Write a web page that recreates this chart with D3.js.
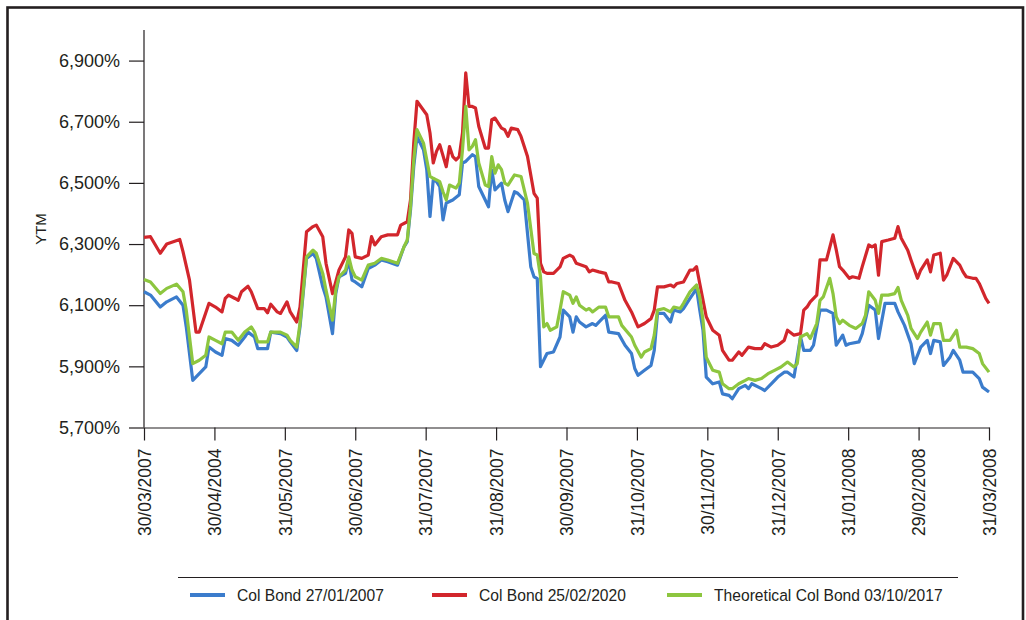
<!DOCTYPE html>
<html>
<head>
<meta charset="utf-8">
<title>YTM</title>
<script src="https://cdn.jsdelivr.net/npm/d3@7"></script>
<style>
	html, body { margin: 0; padding: 0; background: #fff; }
	#canvas { width: 1026px; height: 620px; overflow: hidden; }
	text { font-family: "Liberation Sans", Arial, sans-serif; fill: #231f20; }
</style>
</head>
<body>
<div id="canvas"></div>
<script>
// Data (x = trading day since 30/03/2007, y = yield in %)
var xLabels = ['30/03/2007', '30/04/2004', '31/05/2007', '30/06/2007', '31/07/2007', '31/08/2007',
	'30/09/2007', '31/10/2007', '30/11/2007', '31/12/2007', '31/01/2008', '29/02/2008', '31/03/2008'];
var yTicks = [5.7, 5.9, 6.1, 6.3, 6.5, 6.7, 6.9];
var seriesNames = ['Col Bond 27/01/2007', 'Col Bond 25/02/2020', 'Theoretical Col Bond 03/10/2017'];

var blueDay = [0, 2, 5, 7, 10, 12, 13, 15, 17, 19, 20, 22, 24, 25, 27, 29, 31, 32, 34, 35, 38, 39, 42, 44, 45, 47, 48,
	50, 52, 53, 55, 56, 58, 59, 60, 62, 63, 64, 65, 67, 69, 71, 73, 75, 78, 80, 81, 82, 83, 84, 86, 87, 88, 89, 90,
	91, 92, 93, 95, 97, 98, 99, 101, 102, 103, 104, 106, 107, 108, 110, 111, 112, 114, 115, 117, 119, 120, 121, 122,
	124, 126, 128, 129, 131, 132, 133, 134, 136, 138, 139, 141, 142, 143, 146, 148, 150, 151, 152, 154, 156, 157,
	158, 160, 162, 163, 165, 166, 168, 169, 170, 171, 172, 173, 175, 177, 178, 180, 181, 183, 185, 186, 187, 190,
	191, 193, 195, 197, 198, 200, 202, 203, 205, 206, 208, 210, 212, 213, 215, 216, 217, 220, 221, 223, 225, 226,
	228, 231, 232, 234, 236, 237, 239, 241, 242, 243, 245, 246, 248, 249, 251, 252, 254, 255, 257, 258, 260];
var blueYtm = [6.144, 6.133, 6.094, 6.111, 6.127, 6.100, 6.029, 5.854, 5.876, 5.898, 5.963, 5.947, 5.936, 5.991,
	5.985, 5.969, 5.996, 6.012, 5.996, 5.958, 5.958, 6.012, 6.007, 5.996, 5.980, 5.952, 6.029,
	6.253, 6.269, 6.253, 6.160, 6.127, 6.007, 6.138, 6.193, 6.204, 6.248, 6.182, 6.176, 6.160, 6.220, 6.231, 6.248,
	6.242, 6.231, 6.291, 6.308, 6.411, 6.553, 6.652, 6.608, 6.543, 6.390, 6.510, 6.504,
	6.488, 6.379, 6.434, 6.444, 6.461, 6.565, 6.570, 6.592, 6.586, 6.488, 6.466, 6.422, 6.543, 6.477, 6.499, 6.444,
	6.406, 6.471, 6.466, 6.444, 6.226, 6.193, 6.187, 5.899,
	5.942, 5.947, 5.996, 6.084, 6.062, 6.012, 6.062, 6.045, 6.029, 6.040, 6.034, 6.056, 6.067, 6.012, 6.007, 5.969,
	5.942, 5.893, 5.871, 5.887, 5.903, 5.952,
	6.073, 6.073, 6.045, 6.084, 6.078, 6.089, 6.122, 6.138, 6.155, 6.084, 6.018, 5.865, 5.843, 5.849, 5.810, 5.805,
	5.794, 5.827, 5.838, 5.827, 5.843, 5.827,
	5.821, 5.843, 5.865, 5.881, 5.881, 5.865, 5.996, 5.952, 5.952, 5.969, 6.084, 6.084, 6.073, 5.969, 6.002, 5.969,
	5.974, 5.980, 6.007, 6.100, 6.084, 5.991,
	6.106, 6.106, 6.078, 6.034, 5.974, 5.909, 5.963, 5.985, 5.942, 5.985, 5.980, 5.903, 5.930, 5.952, 5.920, 5.881,
	5.881, 5.881, 5.860, 5.832, 5.816];

var redDay = [0, 2, 5, 7, 11, 12, 14, 16, 17, 20, 22, 24, 25, 26, 28, 29, 30, 32, 33, 35, 37, 38, 39, 41, 42, 44, 45,
	47, 48, 50, 52, 53, 55, 56, 58, 60, 62, 63, 64, 65, 67, 69, 70, 71, 73, 75, 78, 79, 81, 82, 83, 84, 87, 88, 89,
	90, 91, 93, 94, 95, 96, 97, 98, 99, 100, 101, 102, 103, 105, 106, 107, 108, 110, 111, 112, 113, 115, 116, 118,
	120, 121, 122, 123, 124, 126, 128, 129, 131, 132, 133, 136, 137, 138, 140, 142, 143, 144, 146, 148, 150, 152,
	154, 156, 157, 158, 160, 162, 163, 164, 166, 168, 169, 170, 171, 173, 175, 177, 178, 180, 181, 183, 184, 186,
	188, 190, 191, 193, 195, 197, 198, 200, 202, 203, 204, 205, 207, 208, 210, 212, 213, 214, 215, 217, 218, 220,
	221, 223, 224, 225, 226, 227, 229, 231, 232, 233, 235, 236, 238, 239, 241, 242, 243, 245, 246, 247, 249, 251,
	252, 253, 255, 256, 257, 259, 260];
var redYtm = [6.322, 6.324, 6.270, 6.300, 6.315, 6.275, 6.182, 6.012, 6.012, 6.106, 6.094, 6.078, 6.122, 6.133,
	6.122, 6.116, 6.144, 6.162, 6.144, 6.089, 6.089, 6.075, 6.103, 6.078, 6.073, 6.111, 6.078,
	6.045, 6.094, 6.340, 6.357, 6.362, 6.324, 6.237, 6.138, 6.215, 6.258, 6.346, 6.335, 6.258, 6.253, 6.264, 6.324,
	6.297, 6.324, 6.330, 6.330, 6.362, 6.373, 6.444, 6.630, 6.767, 6.723, 6.663, 6.565,
	6.603, 6.625, 6.553, 6.619, 6.586, 6.575, 6.586, 6.663, 6.860, 6.750, 6.750, 6.745, 6.685, 6.614, 6.614, 6.707,
	6.712, 6.679, 6.674, 6.652, 6.679, 6.674, 6.652, 6.586,
	6.466, 6.450, 6.237, 6.209, 6.204, 6.204, 6.225, 6.253, 6.264, 6.258, 6.237, 6.226, 6.209, 6.215, 6.209, 6.204,
	6.176, 6.176, 6.171, 6.116, 6.078, 6.029,
	6.040, 6.056, 6.084, 6.160, 6.160, 6.166, 6.160, 6.171, 6.176, 6.215, 6.215, 6.226, 6.171, 6.062, 6.018, 6.002,
	5.952, 5.920, 5.920, 5.947, 5.936, 5.963,
	5.958, 5.958, 5.974, 5.963, 5.969, 5.985, 6.018, 6.002, 6.007, 6.084, 6.094, 6.111, 6.133, 6.248, 6.248, 6.330,
	6.281, 6.226, 6.215, 6.188, 6.193, 6.188,
	6.226, 6.297, 6.291, 6.297, 6.198, 6.308, 6.313, 6.319, 6.357, 6.319, 6.280, 6.248, 6.188, 6.215, 6.248, 6.209,
	6.264, 6.270, 6.182, 6.198, 6.253, 6.231,
	6.209, 6.193, 6.188, 6.188, 6.171, 6.122, 6.106];

var greenDay = [0, 2, 5, 7, 10, 12, 13, 15, 17, 19, 20, 22, 24, 25, 27, 29, 31, 33, 34, 35, 38, 39, 42, 44, 45, 47, 48,
	50, 52, 53, 55, 56, 58, 59, 60, 62, 63, 64, 65, 67, 69, 71, 73, 75, 78, 80, 81, 82, 83, 84, 86, 88, 89, 90, 91,
	92, 93, 94, 96, 97, 98, 99, 100, 101, 102, 103, 105, 106, 107, 108, 109, 110, 111, 112, 114, 116, 118, 120, 121,
	122, 123, 124, 125, 127, 128, 129, 131, 132, 133, 134, 136, 137, 138, 140, 142, 143, 146, 147, 150, 151, 153,
	154, 156, 157, 158, 160, 162, 163, 165, 166, 168, 169, 170, 171, 172, 173, 175, 177, 178, 180, 181, 183, 185,
	186, 188, 190, 192, 194, 196, 198, 200, 201, 202, 204, 205, 207, 208, 209, 211, 212, 213, 214, 215, 217, 219,
	221, 222, 223, 225, 226, 227, 229, 231, 232, 233, 235, 236, 238, 239, 241, 242, 243, 245, 246, 248, 250, 251,
	253, 255, 257, 258, 260];
var greenYtm = [6.184, 6.176, 6.138, 6.155, 6.169, 6.144, 6.084, 5.909, 5.920, 5.936, 5.996, 5.985, 5.974, 6.012,
	6.012, 5.985, 6.012, 6.029, 6.012, 5.980, 5.980, 6.012, 6.012, 6.002, 5.985, 5.963, 6.040,
	6.258, 6.280, 6.270, 6.204, 6.149, 6.051, 6.149, 6.193, 6.215, 6.258, 6.215, 6.193, 6.182, 6.231, 6.237, 6.253,
	6.248, 6.237, 6.291, 6.313, 6.422, 6.575, 6.674, 6.630, 6.521, 6.515, 6.510, 6.504,
	6.471, 6.444, 6.493, 6.483, 6.499, 6.608, 6.750, 6.608, 6.619, 6.641, 6.565, 6.493, 6.488, 6.586, 6.532, 6.559,
	6.543, 6.499, 6.493, 6.526, 6.521, 6.433, 6.269, 6.264,
	6.193, 6.029, 6.040, 6.018, 6.029, 6.084, 6.144, 6.133, 6.106, 6.127, 6.100, 6.084, 6.089, 6.078, 6.094, 6.094,
	6.062, 6.062, 6.034, 5.996, 5.969, 5.930,
	5.947, 5.958, 6.002, 6.084, 6.089, 6.078, 6.094, 6.089, 6.106, 6.144, 6.155, 6.166, 6.127, 6.051, 5.930, 5.887,
	5.881, 5.843, 5.827, 5.827, 5.843, 5.854,
	5.860, 5.854, 5.860, 5.876, 5.887, 5.898, 5.914, 5.898, 5.909, 5.996, 6.007, 5.991, 6.040, 6.116, 6.127, 6.188,
	6.138, 6.062, 6.040, 6.051, 6.034, 6.024,
	6.040, 6.067, 6.144, 6.116, 6.073, 6.133, 6.133, 6.138, 6.158, 6.116, 6.067, 6.024, 5.991, 6.012, 6.045, 6.002,
	6.040, 6.040, 5.985, 5.985, 6.018, 5.963,
	5.963, 5.958, 5.942, 5.909, 5.881];

var lastDay = 260;

document.addEventListener('DOMContentLoaded', function() {

	// UI
	var width = 1026,
		height = 620,
		left = 144,
		right = 989,
		top = 30,
		bottom = 427.5,
		inkColor = '#231f20',
		colors = ['#3b7ccc', '#d2262c', '#8dc63f'];

	var svg = d3.select('#canvas').append('svg')
		.attr('width', width)
		.attr('height', height);

	var x = d3.scaleLinear().domain([0, lastDay]).range([left, right]),
		y = d3.scaleLinear().domain([5.7, 7.0]).range([bottom, top]);

	var euro = d3.formatLocale({ decimal: ',', thousands: '.', grouping: [3], currency: ['', ''] }),
		fmt = euro.format('.3f');

	// Frame
	svg.append('rect')
		.attr('x', 7.5).attr('y', 7.5)
		.attr('width', 1015.5).attr('height', 700)
		.attr('fill', 'none')
		.attr('stroke', inkColor)
		.attr('stroke-width', 2.6);

	// Y axis
	var yAxis = svg.append('g')
		.attr('transform', 'translate(' + left + ',0)')
		.call(d3.axisLeft(y).tickValues(yTicks).tickSize(15).tickPadding(9)
			.tickFormat(function(d) { return fmt(d) + '%'; }));
	yAxis.select('.domain').remove();
	yAxis.append('line')
		.attr('x1', 0).attr('x2', 0)
		.attr('y1', top).attr('y2', bottom);
	yAxis.selectAll('line').attr('stroke', inkColor).attr('stroke-width', 1.2);
	yAxis.selectAll('text')
		.attr('font-size', 18)
		.attr('font-family', '"Liberation Sans", Arial, sans-serif')
		.attr('fill', inkColor);

	// X axis
	var tickDays = xLabels.map(function(d, i) { return i * lastDay / (xLabels.length - 1); });
	var xAxis = svg.append('g')
		.attr('transform', 'translate(0,' + bottom + ')')
		.call(d3.axisBottom(x).tickValues(tickDays).tickSize(13).tickSizeOuter(0)
			.tickFormat(function(d, i) { return xLabels[i]; }));
	xAxis.select('.domain').attr('stroke', inkColor).attr('stroke-width', 1.2);
	xAxis.selectAll('line').attr('stroke', inkColor).attr('stroke-width', 1.2);
	xAxis.selectAll('text')
		.attr('font-size', 17.5)
		.attr('font-family', '"Liberation Sans", Arial, sans-serif')
		.attr('fill', inkColor)
		.attr('text-anchor', 'end')
		.attr('transform', 'rotate(-90)')
		.attr('x', -21)
		.attr('y', 0)
		.attr('dy', '0.36em');

	// Y title
	svg.append('text')
		.attr('transform', 'translate(46,229) rotate(-90)')
		.attr('text-anchor', 'middle')
		.attr('font-size', 15)
		.text('YTM');

	// Lines
	var series = [
		{ days: blueDay, ytm: blueYtm },
		{ days: redDay, ytm: redYtm },
		{ days: greenDay, ytm: greenYtm }
	];
	var line = d3.line()
		.x(function(d) { return x(d[0]); })
		.y(function(d) { return y(d[1]); });

	svg.append('g').selectAll('path')
		.data(series)
		.enter()
			.append('path')
			.attr('d', function(s) {
				return line(s.days.map(function(d, i) { return [d, s.ytm[i]]; }));
			})
			.attr('fill', 'none')
			.attr('stroke', function(s, i) { return colors[i]; })
			.attr('stroke-width', 3.2)
			.attr('stroke-linejoin', 'round');

	// Legend
	var legend = svg.append('g').attr('class', 'legend');
	legend.append('line')
		.attr('x1', 178).attr('x2', 958)
		.attr('y1', 577.5).attr('y2', 577.5)
		.attr('stroke', inkColor)
		.attr('stroke-width', 1.2);

	var legendX = [190, 432, 667];
	var item = legend.selectAll('g.item')
		.data(seriesNames)
		.enter()
			.append('g')
			.attr('class', 'item')
			.attr('transform', function(d, i) { return 'translate(' + legendX[i] + ',595)'; });
	item.append('line')
		.attr('x1', 0).attr('x2', 35)
		.attr('stroke', function(d, i) { return colors[i]; })
		.attr('stroke-width', 4);
	// narrow face is not installed: squeeze the regular one
	item.append('text')
		.attr('transform', 'translate(47,0) scale(0.92,1)')
		.attr('dy', '0.36em')
		.attr('font-size', 17)
		.text(function(d) { return d; });

});
</script>
</body>
</html>
